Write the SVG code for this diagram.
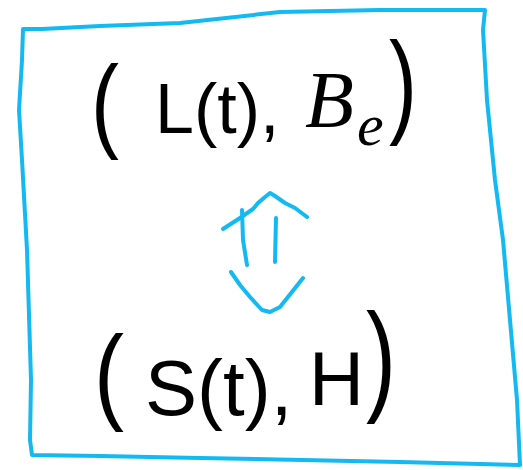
<svg xmlns="http://www.w3.org/2000/svg" width="523" height="470" viewBox="0 0 523 470">
<style>
.ink{fill:none;stroke:#12b9f2;stroke-width:4;stroke-linecap:round;stroke-linejoin:round}
.t{font-family:"Liberation Sans","DejaVu Sans",sans-serif;fill:#000}
.p{font-family:"Liberation Sans","DejaVu Sans",sans-serif;fill:#000;font-size:60px}
.s{font-family:"Liberation Serif",serif;font-style:italic;fill:#000}
</style>
<rect width="523" height="470" fill="#fff"/>
<g id="frame">
<path class="ink" d="M23,29 L42,29 L100,26 L180,23 L280,12 L380,10 L485,10 L483,30 L487,100 L495,180 L503,240 L510,320 L517,400 L520,465 L400,462 L200,458 L100,456 L32,455 L30,440 L31,380 L27,250 L22,160 L19,110 L22,60 Z"/>
</g>
<g id="node-top">
<text class="p" transform="translate(91,138) scale(1.4,1.74)">(</text>
<text class="t" x="155" y="133" font-size="70">L(t),</text>
<text class="s" x="305" y="127" font-size="80">B<tspan x="357" y="145" font-size="60">e</tspan></text>
<text class="p" transform="translate(389,122) scale(1.4,1.93)">)</text>
</g>
<g id="node-bottom">
<text class="p" transform="translate(94,410) scale(1.5,1.76)">(</text>
<text class="t" x="145" y="415" font-size="78">S(t),</text>
<text class="t" x="309" y="405" font-size="76">H</text>
<text class="p" transform="translate(366,399) scale(1.5,2.04)">)</text>
</g>
<g id="connectors">
<path class="ink" d="M223,229 L240,218 L253,209 L258,203 L265,197 L270,193 L275,196 L285,203 L295,208 L307,217"/>
<path class="ink" d="M242,210 L243,240 L247,265"/>
<path class="ink" d="M276,218 L275,262"/>
<path class="ink" d="M231,272 L240,285 L250,297 L262,310 L270,312 L280,307 L303,278"/>
</g>
</svg>
